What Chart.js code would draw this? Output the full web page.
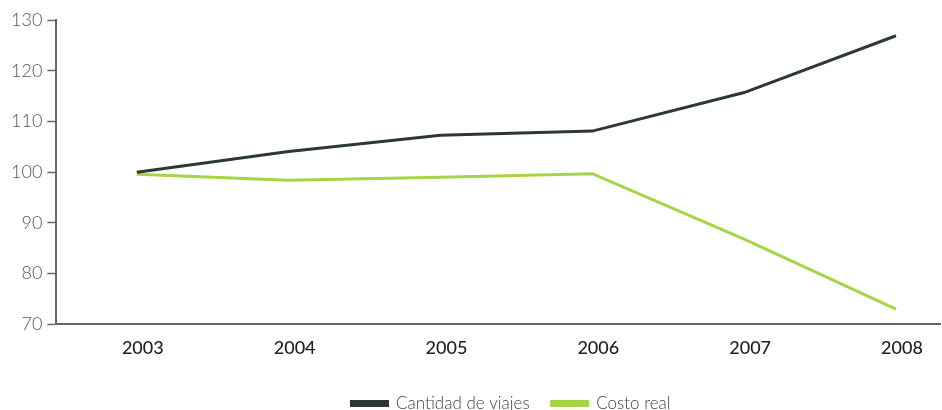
<!DOCTYPE html>
<html>
<head>
<meta charset="utf-8">
<script src="https://cdn.jsdelivr.net/npm/chart.js@4/dist/chart.umd.min.js"></script>
<style>
  html, body { margin: 0; padding: 0; background: #fff; }
  #wrap { width: 942px; height: 410px; }
</style>
</head>
<body>
<div id="wrap"><canvas id="lineChart"></canvas></div>
<script>
// Data
const years = [2003, 2004, 2005, 2006, 2007, 2008];
const cantidadViajes = [100, 104.1, 107.3, 108.1, 115.7, 126.9];
const costoReal = [99.6, 98.4, 99.0, 99.7, 86.8, 73.0];
const yTicks = [70, 80, 90, 100, 110, 120, 130];

const darkColor = '#2a3a31';
const greenColor = '#a5d445';
const axisColor = '#666666';

function toPoints(values) {
    return years.map((yr, i) => ({ x: yr, y: values[i] }));
}

// trim the legend box a little and nudge it down / right (it sits under the plot, not the canvas)
const legendShift = {
    id: 'legendShift',
    beforeInit(chart) {
        const origFit = chart.legend.fit;
        chart.legend.fit = function () {
            origFit.call(this);
            this.height -= 3;
        };
    },
    afterLayout(chart) {
        const lg = chart.legend;
        lg.top += 9;
        lg.bottom += 9;
        lg.left += 38;
        lg.right += 38;
    }
};

function initChart() {
    Chart.defaults.font.family = "'Lato', sans-serif";

    const ctx = document.getElementById('lineChart').getContext('2d');
    new Chart(ctx, {
        type: 'line',
        data: {
            datasets: [{
                label: 'Cantidad de viajes',
                data: toPoints(cantidadViajes),
                borderColor: darkColor,
                backgroundColor: darkColor,
                borderWidth: 3,
                pointRadius: 0,
                tension: 0
            }, {
                label: 'Costo real',
                data: toPoints(costoReal),
                borderColor: greenColor,
                backgroundColor: greenColor,
                borderWidth: 3,
                pointRadius: 0,
                tension: 0
            }]
        },
        plugins: [legendShift],
        options: {
            responsive: true,
            maintainAspectRatio: false,
            animation: false,
            layout: { padding: { top: 20, right: 2, left: 6, bottom: 0 } },
            plugins: {
                tooltip: { enabled: false },
                legend: {
                    position: 'bottom',
                    labels: {
                        boxWidth: 36,
                        boxHeight: 4,
                        padding: 22,
                        color: '#444',
                        font: { size: 17, weight: '300' }
                    }
                }
            },
            scales: {
                x: {
                    type: 'linear',
                    min: 2002.47,
                    max: 2008.29,
                    afterBuildTicks: axis => { axis.ticks = years.map(v => ({ value: v })); },
                    grid: { display: false },
                    border: { display: true, color: axisColor, width: 2 },
                    ticks: {
                        color: '#222',
                        font: { size: 18, weight: '500' },
                        padding: 5,
                        labelOffset: 6,
                        callback: v => String(v)
                    }
                },
                y: {
                    min: 70,
                    max: 130,
                    afterBuildTicks: axis => { axis.ticks = yTicks.map(v => ({ value: v })); },
                    grid: {
                        drawOnChartArea: false,
                        drawTicks: true,
                        tickLength: 9,
                        tickWidth: 1.5,
                        tickColor: axisColor
                    },
                    border: { display: true, color: axisColor, width: 2 },
                    ticks: {
                        color: '#555',
                        font: { size: 18, weight: '300' },
                        padding: 5
                    }
                }
            }
        }
    });
}

document.addEventListener('DOMContentLoaded', initChart);
</script>
</body>
</html>
